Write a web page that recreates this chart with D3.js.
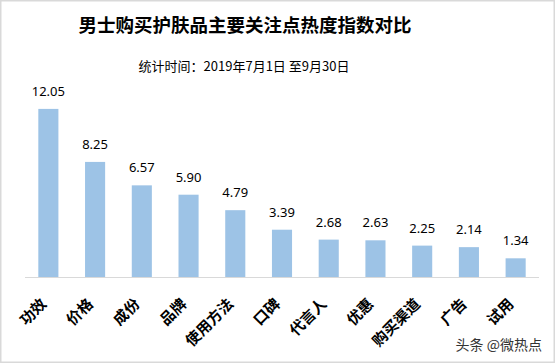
<!DOCTYPE html>
<html>
<head>
<meta charset="utf-8">
<script src="https://cdn.jsdelivr.net/npm/d3@7"></script>
<style>
  body { margin: 0; background: #fff; }
  svg { display: block; }
</style>
</head>
<body>
<div id="chart"></div>
<script>
const categories = ["功效", "价格", "成份", "品牌", "使用方法", "口碑", "代言人", "优惠", "购买渠道", "广告", "试用"];
const values = [12.05, 8.25, 6.57, 5.90, 4.79, 3.39, 2.68, 2.63, 2.25, 2.14, 1.34];

const width = 555;
const height = 363;
const baseY = 277;

const svg = d3.select("#chart")
  .append("svg")
  .attr("width", width)
  .attr("height", height);

// frame
svg.append("rect")
  .attr("x", 0.75).attr("y", 0.75)
  .attr("width", width - 1.5).attr("height", height - 1.5)
  .attr("fill", "#fff")
  .attr("stroke", "#d9d9d9")
  .attr("stroke-width", 1.5);

const x = d3.scaleBand()
  .domain(categories)
  .range([25, 539])
  .paddingInner(0.57)
  .paddingOuter(0.285);

const y = d3.scaleLinear()
  .domain([0, 14])
  .range([baseY, baseY - 14 * 13.95]);

// titles
svg.append("text")
  .attr("x", 245).attr("y", 32)
  .attr("text-anchor", "middle")
  .style("font-family", "'Noto Sans CJK SC'")
  .style("font-size", "18.5px")
  .style("font-weight", "bold")
  .text("男士购买护肤品主要关注点热度指数对比");

svg.append("text")
  .attr("x", 244).attr("y", 71)
  .attr("text-anchor", "middle")
  .style("font-family", "'Noto Sans CJK SC'")
  .style("font-size", "13px")
  .text("统计时间：2019年7月1日 至9月30日");

// bars
svg.selectAll(".bar")
  .data(values)
  .enter()
  .append("rect")
  .attr("class", "bar")
  .attr("x", (d, i) => x(categories[i]))
  .attr("y", d => y(d))
  .attr("width", x.bandwidth())
  .attr("height", d => baseY - y(d))
  .attr("fill", "#9dc3e6");

// value labels
svg.selectAll(".val")
  .data(values)
  .enter()
  .append("text")
  .attr("class", "val")
  .attr("x", (d, i) => x(categories[i]) + x.bandwidth() / 2)
  .attr("y", d => y(d) - 13)
  .attr("text-anchor", "middle")
  .style("font-family", "'Noto Sans'")
  .style("font-size", "13px")
  .text(d => d.toFixed(2));

// axis line
svg.append("line")
  .attr("x1", 25).attr("x2", 539)
  .attr("y1", baseY + 0.5).attr("y2", baseY + 0.5)
  .attr("stroke", "#d9d9d9")
  .attr("stroke-width", 1);

// category labels
svg.selectAll(".cat")
  .data(categories)
  .enter()
  .append("text")
  .attr("class", "cat")
  .attr("transform", d => "translate(" + (x(d) + x.bandwidth() / 2 - 1) + "," + 305 + ") rotate(-45)")
  .attr("text-anchor", "end")
  .style("font-family", "'Noto Sans CJK SC'")
  .style("font-size", "15px")
  .style("font-weight", "bold")
  .text(d => d);

// watermark
svg.append("text")
  .attr("x", 542).attr("y", 350)
  .attr("text-anchor", "end")
  .style("font-family", "'Noto Sans CJK SC'")
  .style("font-size", "14px")
  .attr("fill", "#333")
  .text("头条 @微热点");
</script>
</body>
</html>
